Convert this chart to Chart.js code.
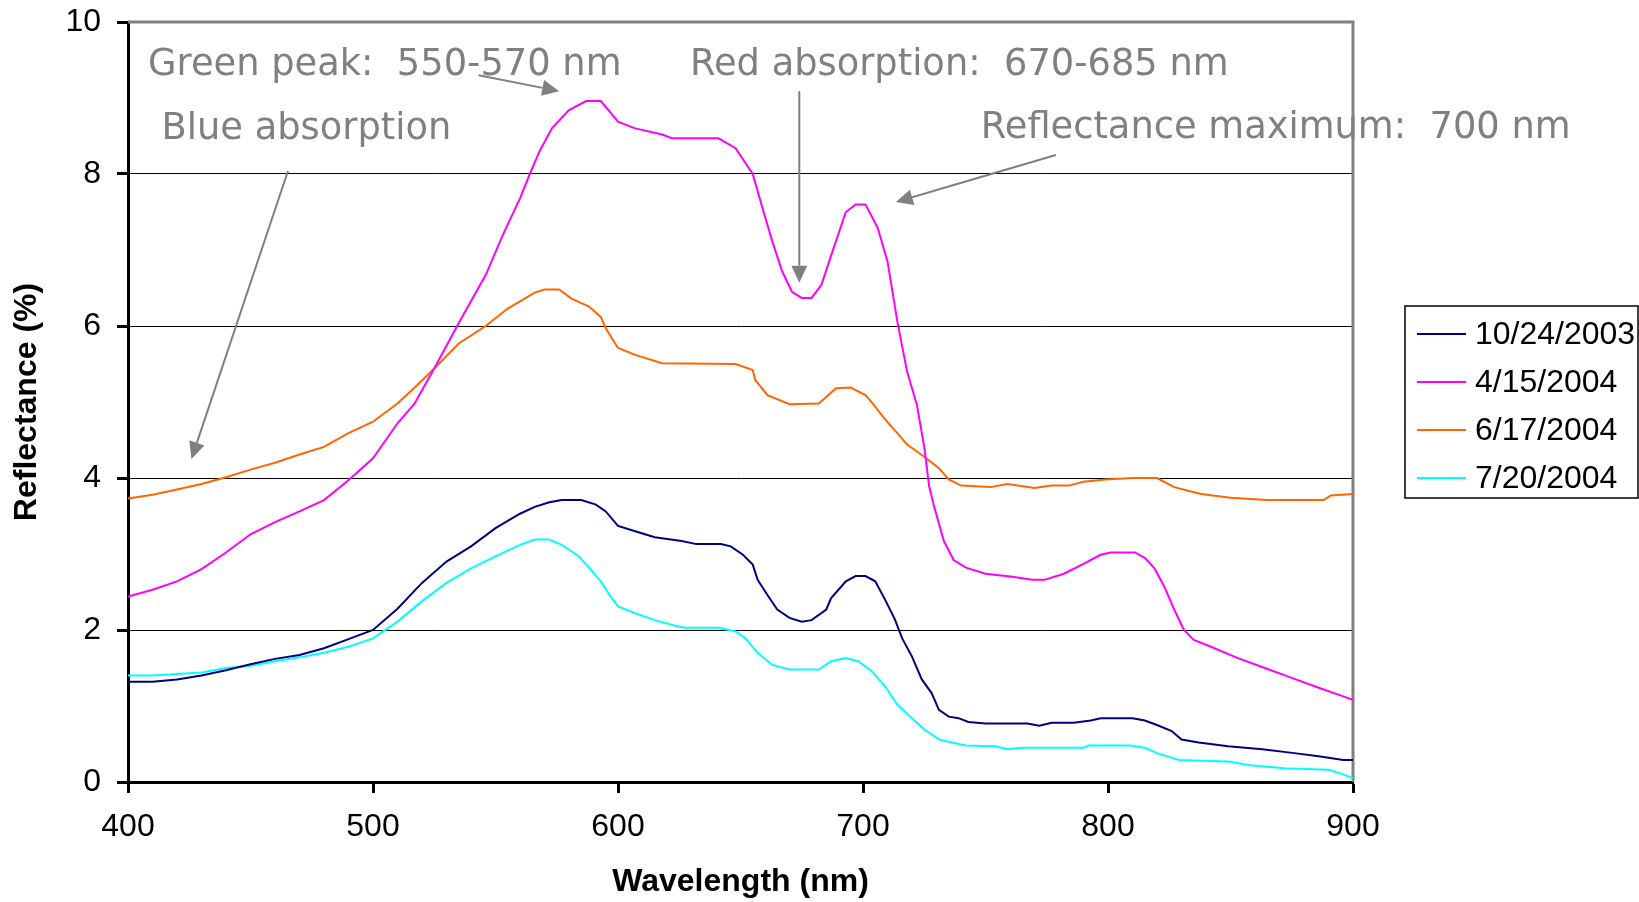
<!DOCTYPE html>
<html>
<head>
<meta charset="utf-8">
<script src="https://cdn.jsdelivr.net/npm/chart.js@4.4.1/dist/chart.umd.min.js"></script>
<style>
  html, body { margin: 0; padding: 0; background: #fff; }
  #wrap { width: 1639px; height: 902px; position: relative; }
</style>
</head>
<body>
<div id="wrap"><canvas id="c"></canvas></div>
<script>
// ---- Data ----
const seriesLabels = ['10/24/2003', '4/15/2004', '6/17/2004', '7/20/2004'];
const seriesColors = ['#000080', '#FF00FF', '#FF6600', '#00FFFF'];

const wl2003 = [400,410,420,430,440,450,460,470,480,490,500,510,520,530,540,550,560,566,572,577,585,591,595,600,607,615,626,632,642,646,651,655,657,661,665,670,675,679,685,687,693,697,701,705,709,713,716,720,724,728,731,735,739,743,750,767,772,777,786,793,797,810,815,820,826,830,837,849,863,876,886,896,900];
const r2003  = [1.32,1.32,1.35,1.40,1.47,1.55,1.62,1.67,1.76,1.88,2.00,2.28,2.62,2.90,3.10,3.34,3.53,3.62,3.68,3.71,3.71,3.65,3.56,3.37,3.30,3.22,3.17,3.13,3.13,3.10,2.99,2.86,2.66,2.46,2.27,2.16,2.11,2.13,2.27,2.42,2.64,2.71,2.71,2.64,2.40,2.14,1.89,1.65,1.35,1.17,0.95,0.86,0.84,0.79,0.77,0.77,0.74,0.78,0.78,0.81,0.84,0.84,0.81,0.75,0.67,0.56,0.52,0.47,0.43,0.38,0.34,0.29,0.29];

const wlApr04 = [400,410,420,430,440,450,460,470,480,490,500,510,517,525,535,546,553,560,564,568,573,580,587,593,600,607,618,622,641,648,655,659,663,667,671,675,679,683,687,693,697,701,706,710,714,718,722,725,727,729,733,737,742,750,761,769,774,782,790,797,801,811,815,819,823,827,831,835,842,853,864,875,886,894,900];
const rApr04  = [2.44,2.53,2.64,2.80,3.02,3.26,3.42,3.56,3.71,3.97,4.26,4.72,4.98,5.44,6.04,6.67,7.20,7.68,8.00,8.30,8.60,8.84,8.96,8.96,8.69,8.60,8.52,8.47,8.47,8.34,8.00,7.55,7.11,6.72,6.45,6.37,6.37,6.54,6.93,7.50,7.60,7.60,7.29,6.85,6.06,5.40,4.96,4.41,3.89,3.63,3.17,2.92,2.82,2.74,2.70,2.66,2.66,2.74,2.87,2.99,3.02,3.02,2.95,2.81,2.57,2.27,2.00,1.87,1.78,1.63,1.50,1.37,1.24,1.15,1.08];

const wlJun04 = [400,410,420,430,440,450,460,470,480,490,500,510,518,525,535,546,555,566,570,576,581,588,593,595,600,607,618,648,655,656,661,670,682,689,695,701,704,709,714,718,725,731,735,740,752,759,770,777,784,790,799,810,820,827,838,850,865,888,891,900];
const rJun04  = [3.73,3.78,3.85,3.92,4.01,4.11,4.20,4.31,4.41,4.59,4.74,4.98,5.22,5.44,5.77,6.00,6.23,6.44,6.48,6.48,6.36,6.26,6.12,5.97,5.71,5.62,5.51,5.50,5.42,5.29,5.09,4.97,4.98,5.18,5.19,5.09,4.98,4.77,4.59,4.44,4.28,4.13,3.98,3.90,3.88,3.92,3.87,3.90,3.90,3.95,3.98,4.00,4.00,3.88,3.79,3.74,3.71,3.71,3.77,3.79];

const wlJul04 = [400,410,420,430,440,450,460,470,480,490,500,510,520,530,540,550,560,566,572,577,584,589,593,597,600,607,615,623,627,641,648,652,657,663,670,682,687,693,698,703.5,709,714,720,725,731,735,742,754,759,765,790,792,809,815,820,829,849,858,872,890,896,900];
const rJul04  = [1.40,1.40,1.42,1.44,1.50,1.53,1.59,1.64,1.70,1.78,1.89,2.11,2.38,2.62,2.81,2.97,3.12,3.19,3.19,3.12,2.97,2.79,2.64,2.44,2.31,2.22,2.13,2.06,2.03,2.03,1.98,1.89,1.70,1.54,1.48,1.48,1.59,1.63,1.59,1.46,1.26,1.02,0.84,0.69,0.56,0.53,0.48,0.47,0.43,0.45,0.45,0.48,0.48,0.45,0.38,0.29,0.27,0.22,0.18,0.16,0.10,0.05];

const xTicks = [400, 500, 600, 700, 800, 900];
const yTicks = [0, 2, 4, 6, 8, 10];

// annotation texts, anchored in data units (left x, baseline y) with arrows (from -> to)
const noteTexts = ['Green peak:  550-570 nm', 'Blue absorption', 'Red absorption:  670-685 nm', 'Reflectance maximum:  700 nm'];
const noteAnchor = [[408.2, 9.30], [413.7, 8.46], [629.4, 9.30], [748.1, 8.48]];
const arrowFrom  = [[543.1, 9.30], [465.3, 8.04], [674.0, 9.09], [778.7, 8.25]];
const arrowTo    = [[576.0, 9.09], [425.9, 4.25], [674.0, 6.57], [713.4, 7.63]];

// ---- Build datasets ----
const allWl = [wl2003, wlApr04, wlJun04, wlJul04];
const allR  = [r2003, rApr04, rJun04, rJul04];
const datasets = seriesLabels.map((lab, i) => ({
  label: lab,
  data: allWl[i].map((w, k) => ({ x: w, y: allR[i][k] })),
  borderColor: seriesColors[i],
  backgroundColor: seriesColors[i],
  borderWidth: 2,
  pointRadius: 0,
  tension: 0,
  fill: false
}));

const GREY = '#808080';
const FONT = '"Liberation Sans", Arial, sans-serif';

function drawArrow(ctx, x1, y1, x2, y2) {
  const a = Math.atan2(y2 - y1, x2 - x1);
  const L = 17, W = 8;
  const bx = x2 - L * Math.cos(a), by = y2 - L * Math.sin(a);
  ctx.beginPath();
  ctx.moveTo(x1, y1);
  ctx.lineTo(bx, by);
  ctx.stroke();
  ctx.beginPath();
  ctx.moveTo(x2, y2);
  ctx.lineTo(bx + W * Math.sin(a), by - W * Math.cos(a));
  ctx.lineTo(bx - W * Math.sin(a), by + W * Math.cos(a));
  ctx.closePath();
  ctx.fill();
}

const decor = {
  id: 'decor',
  beforeDatasetsDraw(chart) {
    const { ctx, chartArea: ca } = chart;
    ctx.save();
    ctx.strokeStyle = GREY;
    ctx.lineWidth = 3;
    ctx.beginPath();
    ctx.moveTo(ca.left, ca.top);
    ctx.lineTo(ca.right, ca.top);
    ctx.lineTo(ca.right, ca.bottom);
    ctx.stroke();
    ctx.restore();
  },
  afterDraw(chart) {
    const { ctx } = chart;
    const xs = chart.scales.x, ys = chart.scales.y;
    ctx.save();
    // annotations
    ctx.fillStyle = GREY;
    ctx.strokeStyle = GREY;
    ctx.lineWidth = 2;
    ctx.font = '36.8px "DejaVu Sans"';
    ctx.textAlign = 'left';
    ctx.textBaseline = 'alphabetic';
    noteTexts.forEach((t, i) => {
      ctx.fillText(t, xs.getPixelForValue(noteAnchor[i][0]), ys.getPixelForValue(noteAnchor[i][1]));
      drawArrow(ctx,
        xs.getPixelForValue(arrowFrom[i][0]), ys.getPixelForValue(arrowFrom[i][1]),
        xs.getPixelForValue(arrowTo[i][0]), ys.getPixelForValue(arrowTo[i][1]));
    });
    // legend
    const bx = 1405, by = 306, bw = 233, bh = 192;
    ctx.strokeStyle = '#000';
    ctx.lineWidth = 1.5;
    ctx.strokeRect(bx, by, bw, bh);
    ctx.font = '32px ' + FONT;
    ctx.textBaseline = 'middle';
    chart.data.datasets.forEach((ds, i) => {
      const y = 334 + i * 48;
      ctx.strokeStyle = ds.borderColor;
      ctx.lineWidth = 2;
      ctx.beginPath();
      ctx.moveTo(1417, y);
      ctx.lineTo(1466, y);
      ctx.stroke();
      ctx.fillStyle = '#000';
      ctx.fillText(ds.label, 1475, y + 1);
    });
    ctx.restore();
  }
};

new Chart(document.getElementById('c'), {
  type: 'line',
  data: { datasets },
  plugins: [decor],
  options: {
    responsive: true,
    maintainAspectRatio: false,
    animation: false,
    layout: { padding: { top: 22, right: 286, left: 0, bottom: 0 } },
    plugins: { legend: { display: false }, tooltip: { enabled: false } },
    scales: {
      x: {
        type: 'linear',
        min: 400, max: 900,
        afterBuildTicks: s => { s.ticks = xTicks.map(v => ({ value: v })); },
        afterFit: s => { s.height = 120; s.paddingLeft = 0; s.paddingRight = 0; },
        ticks: { color: '#000', font: { family: FONT, size: 32 }, padding: 15, maxRotation: 0 },
        grid: { drawOnChartArea: false, drawTicks: true, tickLength: 11, tickWidth: 3, tickColor: '#000' },
        border: { display: true, color: '#000', width: 3 },
        title: { display: true, text: 'Wavelength (nm)', color: '#000', font: { family: FONT, size: 32, weight: 'bold' }, padding: { top: 0, bottom: 1 } }
      },
      y: {
        min: 0, max: 10,
        afterBuildTicks: s => { s.ticks = yTicks.map(v => ({ value: v })); },
        afterFit: s => { s.width = 128; s.paddingTop = 0; s.paddingBottom = 0; },
        ticks: { color: '#000', font: { family: FONT, size: 32 }, padding: 16 },
        grid: { color: '#000', lineWidth: 1, drawTicks: true, tickLength: 11, tickWidth: 3, tickColor: '#000' },
        border: { display: true, color: '#000', width: 3 },
        title: { display: true, text: 'Reflectance (%)', color: '#000', font: { family: FONT, size: 32, weight: 'bold' }, padding: { top: 8, bottom: 0 } }
      }
    }
  }
});
</script>
</body>
</html>
